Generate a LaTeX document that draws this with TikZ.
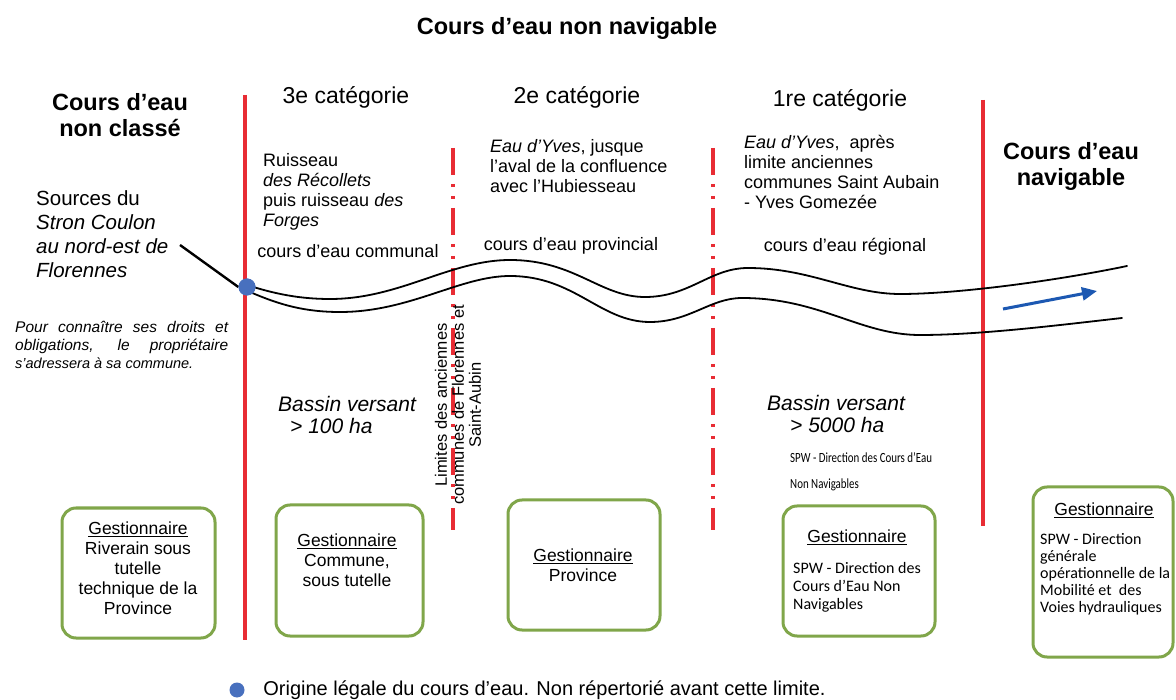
\documentclass[tikz,border=0pt]{standalone}
\usepackage{fontspec}
\setmainfont{Liberation Sans}
\newfontfamily\carlito{Carlito}
\newfontfamily\condfont[FakeStretch=0.78]{Carlito}
\usetikzlibrary{arrows.meta,positioning}
\definecolor{limitred}{RGB}{232,44,52}
\definecolor{boxgreen}{RGB}{128,166,74}
\definecolor{dotblue}{RGB}{72,112,190}
\definecolor{flowblue}{RGB}{28,88,178}

\tikzset{
  limit/.style={limitred, line width=4pt},
  sublimit/.style={limitred, line width=3.5pt, dash pattern=on 27pt off 9pt on 3pt off 9pt on 3pt off 9pt},
  gbox/.style={draw=boxgreen, line width=3pt, rounded corners=14pt},
  bank/.style={line width=1.8pt, line cap=round},
  head/.style={font=\fontsize{23.5}{26}\selectfont\bfseries, align=center},
  categ/.style={font=\fontsize{23}{24}\selectfont},
  coltext/.style={font=\fontsize{18}{20}\selectfont, align=left, anchor=north west, inner sep=0pt},
  bassin/.style={font=\itshape\fontsize{21}{22}\selectfont, align=left, anchor=north west, inner sep=0pt},
  gtext/.style={font=\fontsize{17.5}{20}\selectfont, align=center},
  spwtext/.style={font=\carlito\fontsize{16}{18}\selectfont, align=left, anchor=north west, inner sep=0pt},
}

\begin{document}
\begin{tikzpicture}[x=1pt, y=-1pt]
  \fill[white] (0,0) rectangle (1176,700);
  \useasboundingbox (0,0) rectangle (1176,700);

  % titles
  \node[head] (title) at (567,28) {Cours d’eau non navigable};
  \node[head] (nonclasse) at (120,115) {Cours d’eau\\non classé};
  \node[head] (navigable) at (1071,166) {Cours d’eau\\navigable};

  \node[categ] (cat3) at (346,97) {3e catégorie};
  \node[categ] (cat2) at (577,97) {2e catégorie};
  \node[categ] (cat1) at (840,100) {1re catégorie};

  % limits
  \draw[limit] (245,95) -- (245,640);
  \draw[limit] (983,100) -- (983,526);
  \draw[sublimit] (453,148) -- (453,530);
  \draw[sublimit] (713,148) -- (713,530);

  % left texts
  \node[coltext, font=\fontsize{20.5}{24}\selectfont] (sources) at (36,190)
    {Sources du\\\textit{Stron Coulon}\\\textit{au nord-est de}\\\textit{Florennes}};
  \node[anchor=north west, align=left, inner sep=0pt, font=\itshape\fontsize{15.5}{18}\selectfont] (droits) at (15,321)
    {\makebox[213pt][s]{Pour connaître ses droits et}\\
     \makebox[213pt][s]{obligations, le propriétaire}\\
     {\fontsize{14.5}{18}\selectfont s’adressera à sa commune.}};

  % columns
  \node[coltext] (ruisseau) at (263,153)
    {Ruisseau\\\textit{des Récollets}\\puis ruisseau \textit{des}\\\textit{Forges}};
  \node[font=\fontsize{18}{20}\selectfont] (communal) at (348,251) {cours d’eau communal};

  \node[coltext] (yves2) at (490,139)
    {\textit{Eau d’Yves}, jusque\\l’aval de la confluence\\avec l’Hubiesseau};
  \node[font=\fontsize{18}{20}\selectfont] (provincial) at (571,246) {cours d’eau provincial};

  \node[coltext] (yves1) at (744,135)
    {\textit{Eau d’Yves},~ après\\limite anciennes\\communes Saint Aubain\\- Yves Gomezée};
  \node[font=\fontsize{18}{20}\selectfont] (regional) at (845,247) {cours d’eau régional};

  \node[bassin] (bv3) at (278,396) {Bassin versant\\\hspace*{12pt}> 100 ha};
  \node[bassin] (bv1) at (767,395) {Bassin versant\\\hspace*{23pt}> 5000 ha};

  \node[rotate=90, align=center, font=\fontsize{16.5}{17}\selectfont] (anciennes) at (458,405)
    {Limites des anciennes\\communes de Florennes et\\Saint-Aubin};

  \node[anchor=north west, align=left, inner sep=0pt, font=\condfont\fontsize{14}{26}\selectfont] (spwcond) at (790,452)
    {SPW - Direction des Cours d’Eau\\Non Navigables};

  % river
  \draw[bank] (247,285) .. controls (275,294) and (300,299) .. (330,299)
    .. controls (400,299) and (450,260) .. (510,260)
    .. controls (575,260) and (600,297) .. (645,297)
    .. controls (690,297) and (710,268) .. (748,268)
    .. controls (810,268) and (850,294) .. (900,294)
    .. controls (960,294) and (1060,280) .. (1127,266);
  \draw[bank] (250,292) .. controls (280,305) and (305,312) .. (340,312)
    .. controls (410,312) and (460,276) .. (510,276)
    .. controls (575,276) and (600,322) .. (650,322)
    .. controls (690,322) and (710,298) .. (742,298)
    .. controls (820,298) and (860,335) .. (920,335)
    .. controls (980,335) and (1060,325) .. (1122,318);
  \coordinate (source) at (180,245);
  \node[circle, fill=dotblue, minimum size=17pt, inner sep=0pt] (origine) at (247,287) {};
  \draw[line width=2.4pt] (source) -- (origine.west);
  \fill[dotblue] (origine) circle (8.5pt);

  \coordinate (flowstart) at (1003,309);
  \coordinate (flowend) at (1097,291);
  \draw[flowblue, line width=3pt, -{Triangle[length=15pt, width=13pt]}] (flowstart) -- (flowend);

  % gestionnaires
  \node[gbox, minimum width=153pt, minimum height=130pt] (g1) at (138.5,573) {};
  \node[gtext] (g1txt) at (138,568)
    {\underline{Gestionnaire}\\Riverain sous\\tutelle\\technique de la\\Province};

  \node[gbox, minimum width=147pt, minimum height=131pt] (g2) at (349.5,570.5) {};
  \node[gtext] (g2txt) at (347,560) {\underline{Gestionnaire}\\Commune,\\sous tutelle};

  \node[gbox, minimum width=152pt, minimum height=130pt] (g3) at (584,565) {};
  \node[gtext] (g3txt) at (583,565) {\underline{Gestionnaire}\\Province};

  \node[gbox, minimum width=152pt, minimum height=130pt] (g4) at (859,571) {};
  \node[gtext] (g4head) at (857,537) {\underline{Gestionnaire}};
  \node[spwtext] (g4txt) at (793,562) {SPW - Direction des\\Cours d’Eau Non\\Navigables};

  \node[gbox, minimum width=140pt, minimum height=170pt] (g5) at (1103,572) {};
  \node[gtext] (g5head) at (1104,510) {\underline{Gestionnaire}};
  \node[spwtext, font=\carlito\fontsize{16}{17}\selectfont] (g5txt) at (1040,533)
    {SPW - Direction\\générale\\opérationnelle de la\\Mobilité et~ des\\Voies hydrauliques};

  % legend
  \node[circle, fill=dotblue, minimum size=15pt, inner sep=0pt] (legdot) at (237,690) {};
  \node[right=18.5pt of legdot, inner sep=0pt, font=\fontsize{20}{22}\selectfont] (legtext)
    {Origine légale du cours d’eau. Non répertorié avant cette limite.};
\end{tikzpicture}
\end{document}
